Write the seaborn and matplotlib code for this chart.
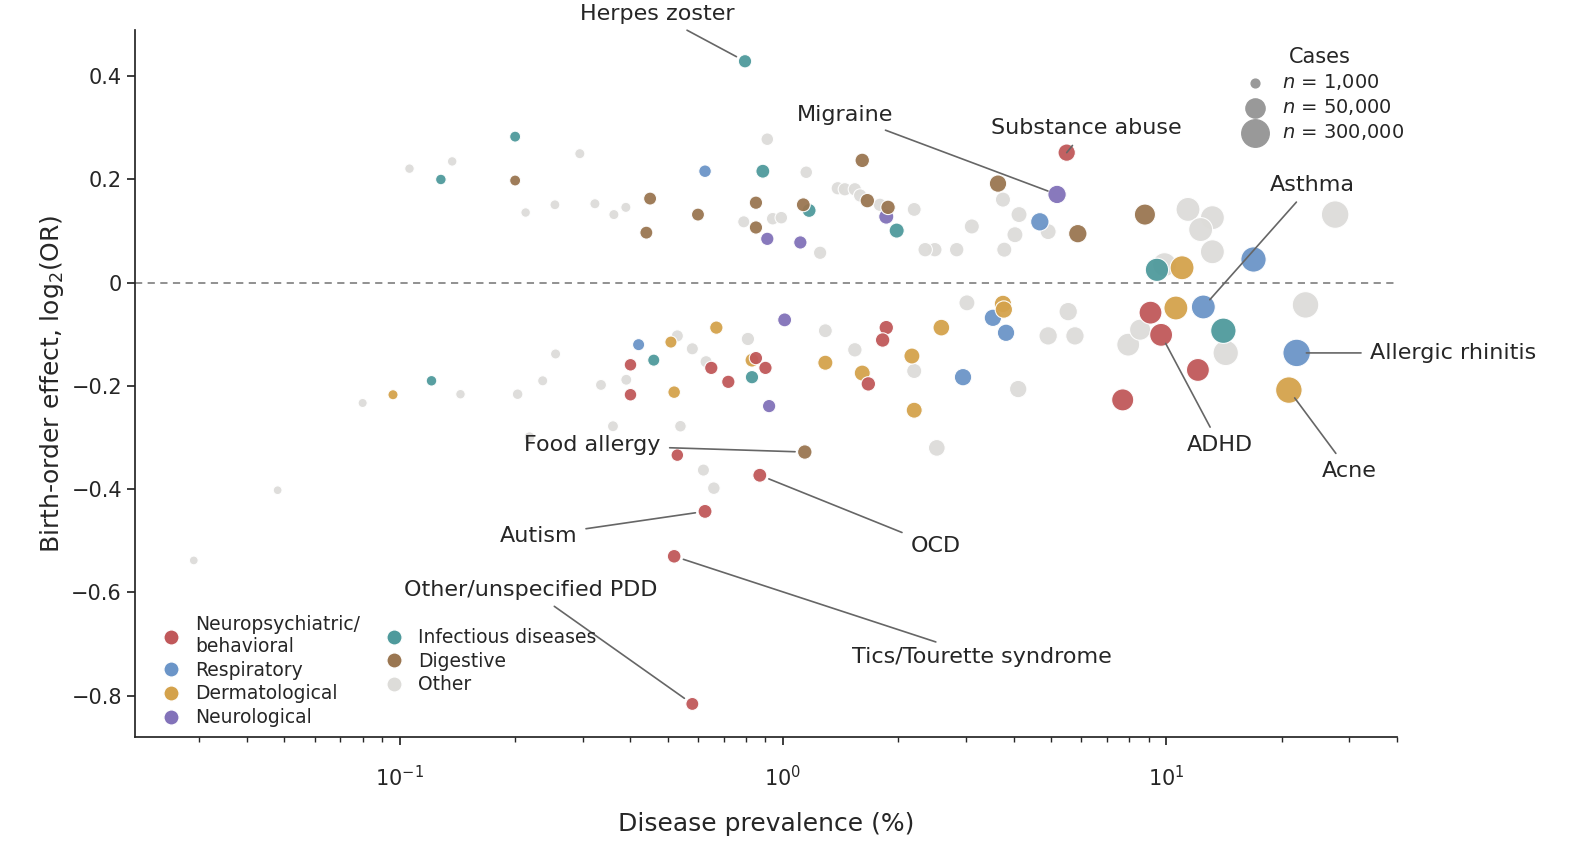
import numpy as np
import pandas as pd
import matplotlib
matplotlib.use("Agg")
import matplotlib.pyplot as plt
import seaborn as sns
from matplotlib.lines import Line2D

categories = ["Neuropsychiatric/\nbehavioral", "Respiratory", "Dermatological", "Neurological",
              "Infectious diseases", "Digestive", "Other"]
palette = ["#c0585a", "#6b95c8", "#d4a24c", "#8272b9", "#4f9a9c", "#9a7651", "#dddcd9"]

# named diseases: (label, category index, prevalence %, effect, cases)
named_labels = ["Herpes zoster", "Migraine", "Substance abuse", "Asthma", "Allergic rhinitis", "Acne",
                "ADHD", "Food allergy", "OCD", "Autism", "Tics/Tourette syndrome", "Other/unspecified PDD"]
named_cat = [4, 3, 0, 1, 1, 2, 0, 5, 0, 0, 0, 0]
named_prev = [0.796, 5.19, 5.5, 12.5, 21.9, 20.9, 9.7, 1.14, 0.87, 0.626, 0.52, 0.58]
named_eff = [0.429, 0.171, 0.252, -0.047, -0.136, -0.208, -0.101, -0.328, -0.373, -0.443, -0.530, -0.816]
named_cases = [8000, 40000, 30000, 150000, 300000, 250000, 120000, 12000, 10000, 10000, 9000, 7000]

red_prev = [9.1, 12.1, 7.7, 1.86, 1.82, 1.67, 0.90, 0.85, 0.72, 0.65, 0.40, 0.40, 0.53]
red_eff = [-0.058, -0.169, -0.227, -0.087, -0.111, -0.196, -0.165, -0.146, -0.192, -0.165, -0.159, -0.217, -0.334]
red_cases = [120000, 120000, 100000, 12000, 12000, 12000, 8000, 8000, 8000, 8000, 6000, 6000, 6000]

blue_prev = [4.68, 3.53, 3.82, 2.95, 16.9, 0.626, 0.42]
blue_eff = [0.118, -0.068, -0.097, -0.183, 0.045, 0.216, -0.120]
blue_cases = [40000, 30000, 30000, 30000, 200000, 6000, 5000]

gold_prev = [11.0, 10.6, 3.75, 3.77, 2.59, 2.17, 2.2, 1.61, 1.29, 0.67, 0.83, 0.51, 0.52, 0.096]
gold_eff = [0.029, -0.049, -0.041, -0.052, -0.087, -0.142, -0.247, -0.175, -0.155, -0.087, -0.150, -0.115, -0.212, -0.217]
gold_cases = [150000, 150000, 30000, 30000, 25000, 20000, 20000, 20000, 15000, 8000, 10000, 5000, 6000, 2000]

purple_prev = [1.86, 1.01, 0.91, 1.11, 0.92]
purple_eff = [0.128, -0.072, 0.085, 0.078, -0.239]
purple_cases = [15000, 10000, 8000, 8000, 8000]

teal_prev = [9.46, 14.1, 1.98, 1.17, 0.886, 0.83, 0.46, 0.20, 0.128, 0.121]
teal_eff = [0.025, -0.093, 0.101, 0.140, 0.216, -0.183, -0.150, 0.283, 0.200, -0.190]
teal_cases = [130000, 200000, 15000, 10000, 10000, 8000, 5000, 3000, 2500, 2500]

brown_prev = [3.64, 5.88, 8.8, 1.61, 1.66, 1.88, 1.13, 0.85, 0.85, 0.60, 0.45, 0.44, 0.20]
brown_eff = [0.192, 0.095, 0.132, 0.237, 0.159, 0.146, 0.151, 0.155, 0.107, 0.132, 0.163, 0.097, 0.198]
brown_cases = [30000, 40000, 80000, 12000, 12000, 12000, 10000, 8000, 8000, 7000, 7000, 7000, 3000]

other_prev = [0.106, 0.137, 0.213, 0.254, 0.295, 0.323, 0.362, 0.389, 0.91, 1.15, 1.39, 1.45, 1.54, 1.59,
              1.79, 2.20, 0.79, 0.94, 0.99, 1.25, 2.49, 2.84, 2.35, 3.11, 3.75, 3.78, 4.13, 4.03, 4.92,
              11.4, 13.2, 12.3, 13.2, 9.9, 27.6, 23.1, 14.3, 7.96, 8.55, 5.78, 4.92, 5.55, 4.11, 3.02,
              2.20, 1.54, 1.29, 0.81, 0.63, 0.58, 0.53, 0.335, 0.39, 0.36, 0.218, 0.203, 0.236, 0.255,
              0.144, 0.080, 0.62, 0.66, 0.54, 0.048, 0.029, 2.52]
other_eff = [0.221, 0.235, 0.136, 0.151, 0.250, 0.153, 0.132, 0.146, 0.278, 0.214, 0.183, 0.181, 0.181, 0.169,
             0.151, 0.142, 0.118, 0.124, 0.126, 0.058, 0.064, 0.064, 0.064, 0.109, 0.161, 0.064, 0.132, 0.093, 0.099,
             0.142, 0.126, 0.103, 0.060, 0.035, 0.132, -0.043, -0.136, -0.120, -0.091, -0.103, -0.103, -0.056, -0.206, -0.039,
             -0.171, -0.130, -0.093, -0.109, -0.153, -0.128, -0.103, -0.198, -0.188, -0.278, -0.299, -0.216, -0.190, -0.138,
             -0.216, -0.233, -0.363, -0.398, -0.278, -0.402, -0.538, -0.320]
other_cases = [1500, 1500, 1500, 1800, 2000, 2000, 2000, 2000, 6000, 6000, 8000, 8000, 8000, 8000,
               8000, 10000, 5000, 6000, 6000, 8000, 12000, 12000, 12000, 15000, 15000, 15000, 20000, 20000, 20000,
               150000, 150000, 150000, 150000, 150000, 300000, 250000, 200000, 120000, 80000, 40000, 40000, 40000, 30000, 20000,
               15000, 12000, 10000, 8000, 5000, 5000, 5000, 3000, 3000, 3000, 2500, 2500, 2000, 2000,
               1500, 1200, 5000, 6000, 4000, 1000, 1000, 25000]

groups = [(red_prev, red_eff, red_cases, 0), (blue_prev, blue_eff, blue_cases, 1),
          (gold_prev, gold_eff, gold_cases, 2), (purple_prev, purple_eff, purple_cases, 3),
          (teal_prev, teal_eff, teal_cases, 4), (brown_prev, brown_eff, brown_cases, 5),
          (other_prev, other_eff, other_cases, 6)]
rows = []
for p, e, c, k in groups:
    for a, b, n in zip(p, e, c):
        rows.append((a, b, n, categories[k]))
for p, e, c, k in zip(named_prev, named_eff, named_cases, named_cat):
    rows.append((p, e, c, categories[k]))
df = pd.DataFrame(rows, columns=["prev", "eff", "cases", "cat"])
df["order"] = df["cat"].map(lambda c: 0 if c == "Other" else 1)
df = df.sort_values(["order", "cases"], ascending=[True, False])


def area(n):
    return 40 * (np.asarray(n) / 1000.0) ** 0.40


sns.set_theme(style="white")
plt.rcParams["font.family"] = ["DejaVu Sans"]
fig, ax = plt.subplots(figsize=(15.91, 8.51), dpi=100)
fig.subplots_adjust(left=0.085, right=0.878, top=0.965, bottom=0.134)
fig.subplots_adjust(right=0.879, bottom=0.134)
ax.set_position([0.085, 0.134, 0.793, 0.831])

ax.axhline(0, color="#888888", ls=(0, (4, 3)), lw=1.3, zorder=0)
sns.scatterplot(data=df, x="prev", y="eff", hue="cat", hue_order=categories, palette=palette,
                s=area(df["cases"]), edgecolor="white", linewidth=0.8, alpha=0.95, legend=False, ax=ax,
                zorder=3)
ax.set_xscale("log")
ax.set_xlim(0.0204, 40)
ax.set_ylim(-0.88, 0.49)
ax.set_yticks([-0.8, -0.6, -0.4, -0.2, 0, 0.2, 0.4])
ax.set_yticklabels(["\u22120.8", "\u22120.6", "\u22120.4", "\u22120.2", "0", "0.2", "0.4"])
ax.tick_params(axis="both", labelsize=15, length=6, left=True, bottom=True)
ax.tick_params(axis="x", which="minor", length=3.5, bottom=True)
ax.tick_params(axis="x", which="major", pad=14)
sns.despine(ax=ax)
ax.set_xlabel("Disease prevalence (%)", fontsize=18, labelpad=16)
ax.set_ylabel("Birth-order effect, log$_2$(OR)", fontsize=18)

# annotations: label text position (data coords) and alignment
ann_text = {
    "Herpes zoster": (0.47, 0.52, "center"),
    "Migraine": (1.45, 0.325, "center"),
    "Substance abuse": (6.2, 0.30, "center"),
    "Asthma": (24, 0.19, "center"),
    "Allergic rhinitis": (34, -0.136, "left"),
    "Acne": (30, -0.365, "center"),
    "ADHD": (13.8, -0.315, "center"),
    "Food allergy": (0.48, -0.315, "right"),
    "OCD": (2.5, -0.51, "center"),
    "Autism": (0.23, -0.49, "center"),
    "Tics/Tourette syndrome": (3.3, -0.725, "center"),
    "Other/unspecified PDD": (0.22, -0.595, "center"),
}
for lab, p, e in zip(named_labels, named_prev, named_eff):
    tx, ty, ha = ann_text[lab]
    ax.annotate(lab, xy=(p, e), xytext=(tx, ty), ha=ha, va="center", fontsize=16,
                arrowprops=dict(arrowstyle="-", color="#666666", lw=1.2, shrinkA=4, shrinkB=7), zorder=5)

cat_handles = [Line2D([], [], marker="o", ls="", markersize=11, markerfacecolor=c, markeredgecolor="white")
               for c in palette]
leg1 = ax.legend(cat_handles, categories, ncol=2, loc="lower left", bbox_to_anchor=(0.0, -0.01),
                 frameon=False, fontsize=13.5, handletextpad=0.3, columnspacing=0.8, labelspacing=0.25)
ax.add_artist(leg1)

size_vals = [1000, 50000, 300000]
size_handles = [ax.scatter([], [], s=area(n), color="#999999") for n in size_vals]
ax.legend(size_handles, ["$n$ = 1,000", "$n$ = 50,000", "$n$ = 300,000"], title="Cases",
          loc="upper right", bbox_to_anchor=(1.02, 1.0), frameon=False, fontsize=14, title_fontsize=15,
          handletextpad=0.4, labelspacing=0.25)

fig.savefig("out.png", dpi=100)
